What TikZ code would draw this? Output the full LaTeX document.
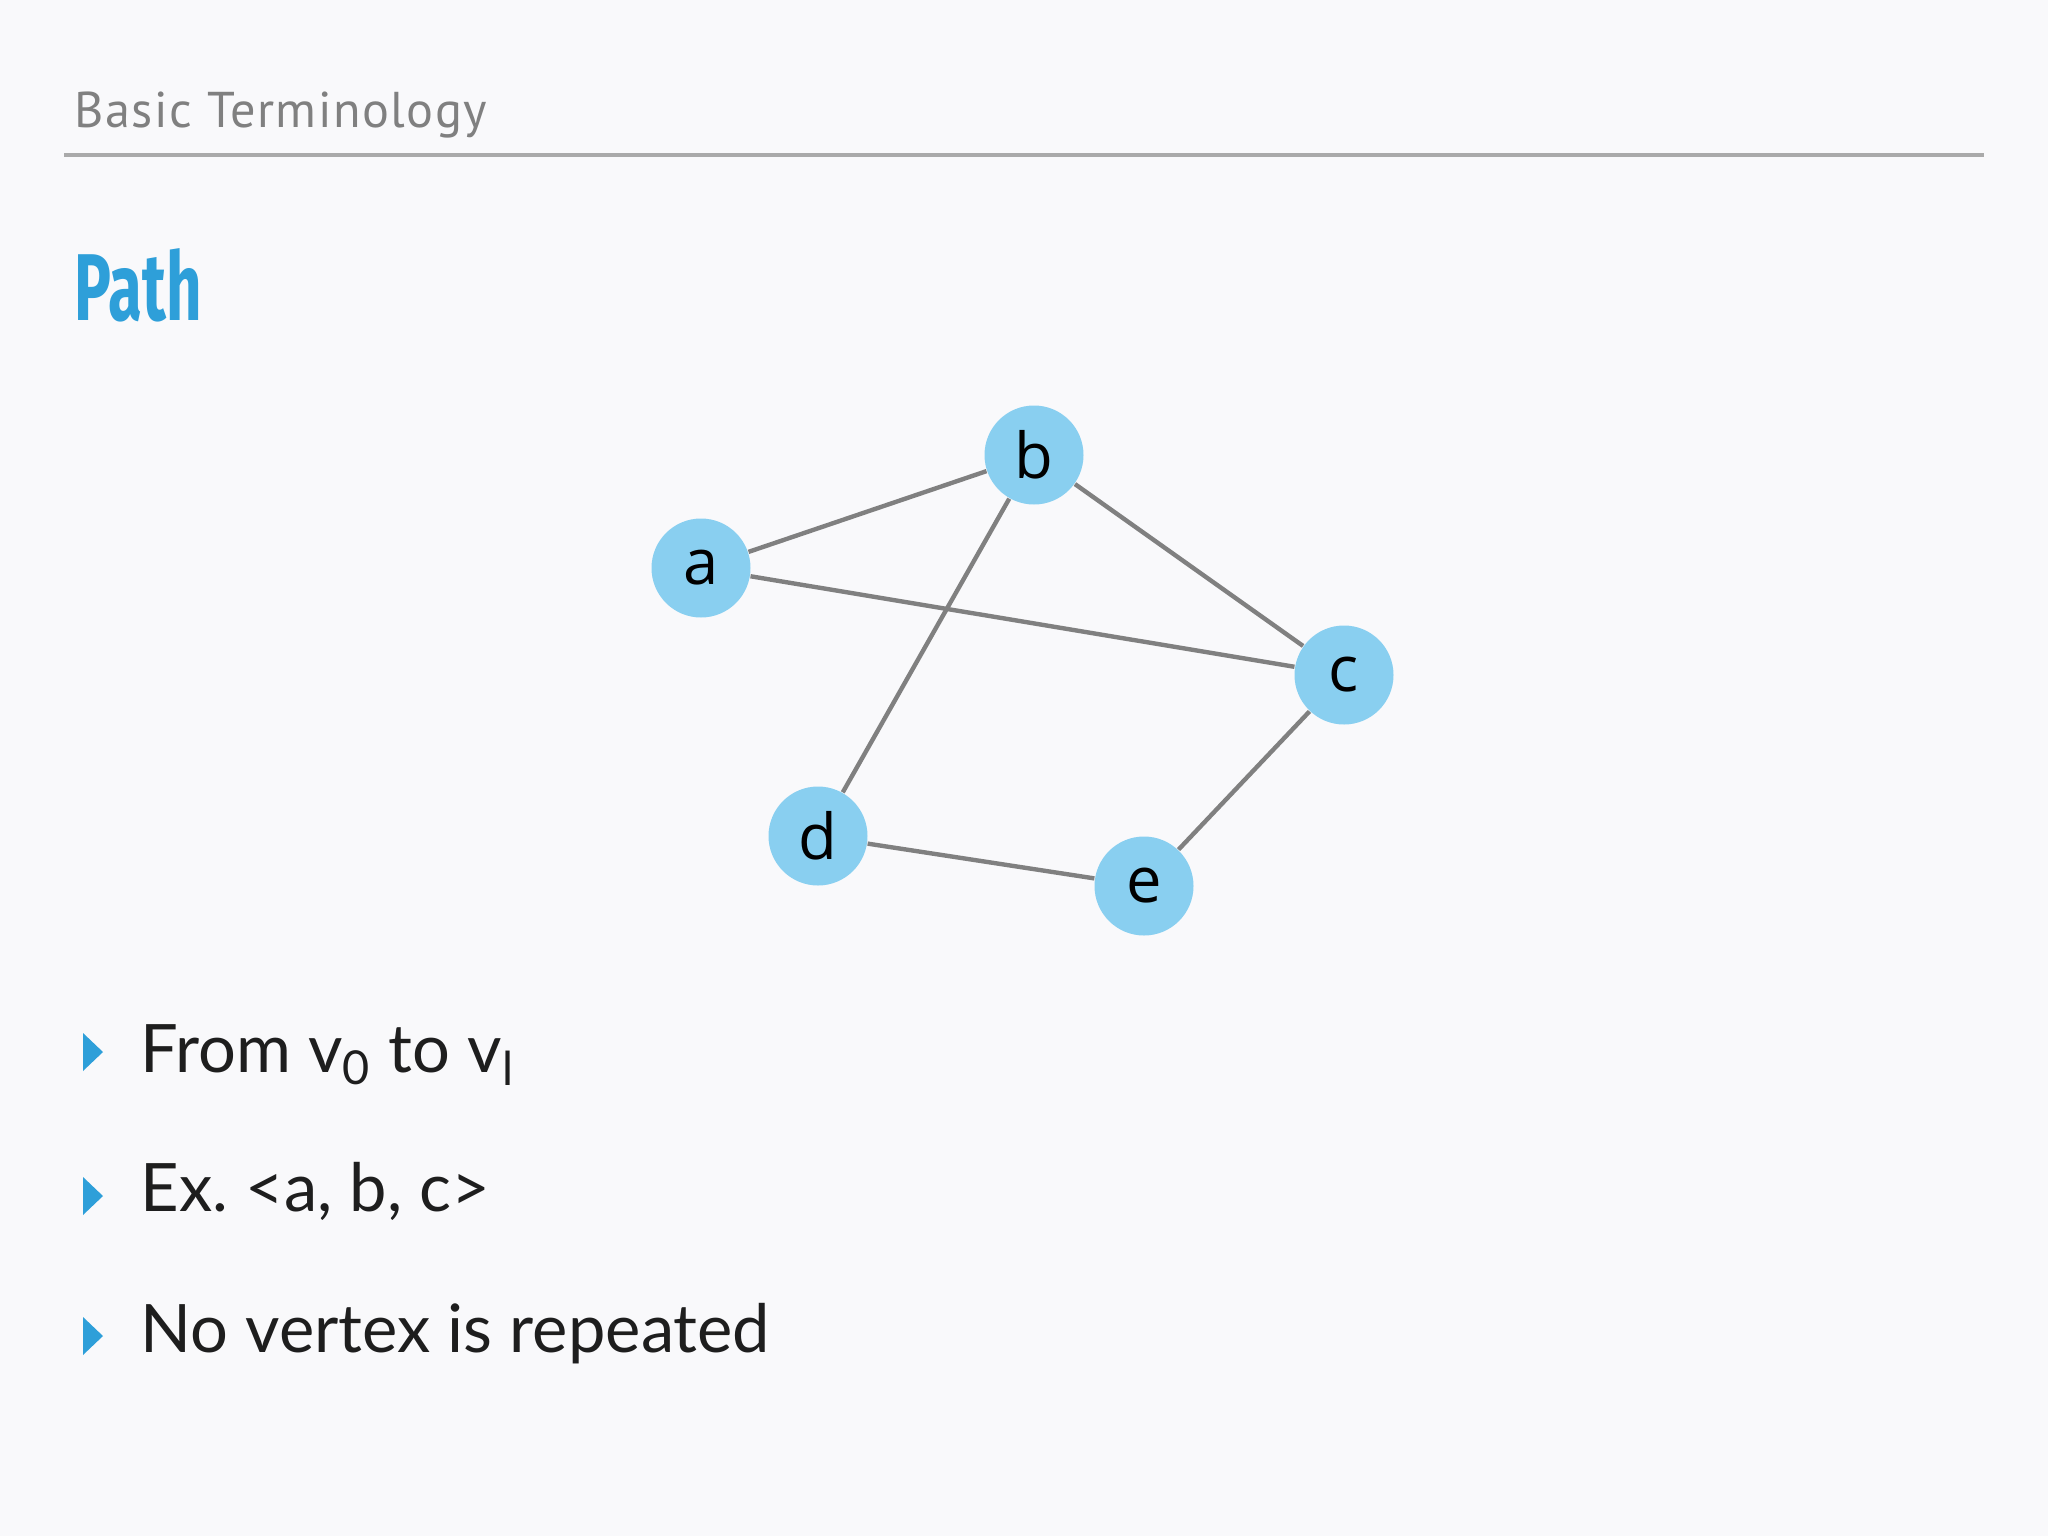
\documentclass[tikz,border=0pt]{standalone}
\usepackage{fontspec}
\setmainfont{Lato}
\newfontfamily\headfont[LetterSpace=3]{PT Sans}
\newfontfamily\titlefont[FakeStretch=0.65]{Fira Sans}
\newfontfamily\nodefont{Open Sans}
\definecolor{bgc}{RGB}{249,249,251}
\definecolor{headgray}{RGB}{128,128,128}
\definecolor{rulegray}{RGB}{170,170,170}
\definecolor{titleblue}{RGB}{46,159,217}
\definecolor{nodeblue}{RGB}{137,207,240}
\definecolor{edgegray}{RGB}{128,128,128}
\definecolor{textblack}{RGB}{30,30,30}
\newlength{\pgfunitx}
\setlength{\pgfunitx}{0.01cm}
\tikzset{
  vtx/.style={circle, fill=nodeblue, minimum size=99\pgfunitx, inner sep=0pt,
    font=\nodefont\fontsize{18}{21}\selectfont, text=black},
  edge/.style={draw=edgegray, line width=1.25pt},
  bullettext/.style={anchor=base west, inner sep=0pt, text=textblack,
    font=\fontsize{19}{23}\selectfont},
}
\begin{document}
\frenchspacing
\begin{tikzpicture}[x=0.01cm, y=-0.01cm]
\useasboundingbox (0,0) rectangle (2048,1536);
\fill[bgc] (0,0) rectangle (2048,1536);
% header
\node[anchor=base west, inner sep=0pt, text=headgray,
  font=\headfont\fontsize{14.3}{16}\selectfont] (head) at (74,127) {Basic Terminology};
\draw[rulegray, line width=1pt] (64,155) -- (1984,155);
% title
\node[anchor=base west, inner sep=0pt, text=titleblue,
  font=\titlefont\bfseries\fontsize{27}{30}\selectfont] (title) at (74,320) {Path};
% graph
\node[vtx] (a) at (701,568) {a};
\node[vtx] (b) at (1034,455) {b};
\node[vtx] (c) at (1344,675) {c};
\node[vtx] (d) at (818,836) {d};
\node[vtx] (e) at (1144,886) {e};
\draw[edge] (a) -- (b);
\draw[edge] (a) -- (c);
\draw[edge] (b) -- (c);
\draw[edge] (b) -- (d);
\draw[edge] (c) -- (e);
\draw[edge] (d) -- (e);
% bullets
\foreach \yy in {1052,1196,1336}{
  \fill[titleblue] (83,\yy-19) -- (103,\yy) -- (83,\yy+19) -- cycle;
}
\node[bullettext] (l1) at (140,1072) {From v\textsubscript{0} to v\textsubscript{l}};
\node[bullettext] (l2) at (140,1211) {Ex. <a, b, c>};
\node[bullettext] (l3) at (140,1352) {No vertex is repeated};
\end{tikzpicture}
\end{document}
